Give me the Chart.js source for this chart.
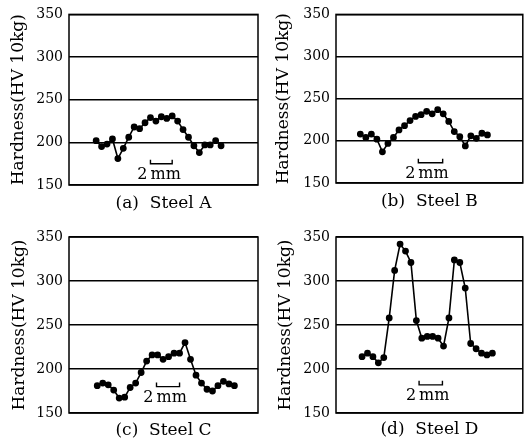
<!DOCTYPE html>
<html>
<head>
<meta charset="utf-8">
<script src="https://cdn.jsdelivr.net/npm/chart.js@4.4.0/dist/chart.umd.min.js"></script>
<style>
  body { margin: 0; background: #fff; }
  #wrap { position: relative; width: 527px; height: 443px; }
  canvas { position: absolute; }
</style>
</head>
<body>
<div id="wrap">
  <canvas id="cA" width="264" height="220" style="left:0;top:0"></canvas>
  <canvas id="cB" width="263" height="220" style="left:264px;top:0"></canvas>
  <canvas id="cC" width="264" height="223" style="left:0;top:220px"></canvas>
  <canvas id="cD" width="263" height="223" style="left:264px;top:220px"></canvas>
</div>
<script>
// hardness readings across the weld, one every 0.5 mm
const hardnessA = [202, 195, 198, 204, 181, 193, 206, 218, 216, 223, 229, 225, 230, 228, 231, 225, 215, 206, 196, 188, 197, 197, 202, 196];
const hardnessB = [208, 204, 208, 202, 187, 197, 204, 213, 218, 224, 229, 231, 235, 232, 237, 232, 223, 211, 205, 194, 206, 203, 209, 207];
const hardnessC = [181, 184, 182, 176, 167, 168, 179, 184, 196, 209, 216, 216, 211, 214, 218, 218, 230, 211, 193, 184, 177, 175, 181, 186, 183, 181];
const hardnessD = [214, 218, 214, 207, 213, 258, 312, 342, 334, 321, 255, 235, 237, 237, 235, 226, 258, 324, 321, 292, 229, 223, 218, 216, 218];

const panelTitles = ['(a)  Steel A', '(b)  Steel B', '(c)  Steel C', '(d)  Steel D'];
const yTicks = [150, 200, 250, 300, 350];
const yTitle = 'Hardness(HV 10kg)';
const scaleBarNum = '2';
const scaleBarUnit = 'mm';

const SERIF = "'DejaVu Serif', 'Liberation Serif', serif";

// frame around the plot + the 2 mm scale bar
const framePlugin = {
  id: 'frame',
  afterDatasetsDraw(chart, args, opts) {
    const {ctx, chartArea: a, scales: {x, y}} = chart;
    ctx.save();
    ctx.strokeStyle = '#000';
    ctx.lineWidth = 1.5;
    ctx.strokeRect(a.left, a.top, a.right - a.left, a.bottom - a.top);

    const x0 = x.getPixelForValue(opts.bar[0]);
    const x1 = x.getPixelForValue(opts.bar[1]);
    const yb = y.getPixelForValue(opts.bar[2]);
    ctx.lineWidth = 1.4;
    ctx.beginPath();
    ctx.moveTo(x0, yb - 4);
    ctx.lineTo(x0, yb);
    ctx.lineTo(x1, yb);
    ctx.lineTo(x1, yb - 4);
    ctx.stroke();
    ctx.fillStyle = '#000';
    ctx.font = '16px ' + SERIF;
    ctx.textBaseline = 'alphabetic';
    ctx.textAlign = 'right';
    ctx.fillText(scaleBarNum, x0 - 3, yb + 15);
    ctx.textAlign = 'left';
    ctx.fillText(scaleBarUnit, x0, yb + 15);
    ctx.restore();
  }
};

function makePanel(id, values, title, lay) {
  new Chart(document.getElementById(id), {
    type: 'line',
    data: {
      datasets: [{
        data: values.map((v, i) => ({x: i, y: v})),
        borderColor: '#000',
        backgroundColor: '#000',
        borderWidth: 1.6,
        pointRadius: 2.6,
        pointHoverRadius: 2.6,
        tension: 0
      }]
    },
    options: {
      responsive: false,
      animation: false,
      layout: {padding: {top: lay.top, right: lay.right, left: 0, bottom: 0}},
      plugins: {
        legend: {display: false},
        tooltip: {enabled: false},
        frame: {bar: lay.bar}
      },
      scales: {
        x: {
          type: 'linear',
          min: lay.xmin,
          max: lay.xmax,
          grid: {display: false, drawTicks: false},
          border: {display: false},
          ticks: {display: false},
          title: {
            display: true,
            text: title,
            color: '#000',
            font: {family: SERIF, size: 17},
            padding: {top: 0, bottom: lay.titlePad}
          },
          afterFit(s) { s.height = lay.bottomH; }
        },
        y: {
          min: 150,
          max: 350,
          afterBuildTicks(s) { s.ticks = yTicks.map(v => ({value: v})); },
          grid: {color: '#000', lineWidth: 1.5, drawTicks: false},
          border: {display: false},
          ticks: {
            color: '#000',
            padding: 6,
            font: {family: SERIF, size: 14}
          },
          title: {
            display: true,
            text: yTitle,
            color: '#000',
            font: {family: SERIF, size: 17},
            padding: {top: lay.yTitlePad, bottom: 0}
          },
          afterFit(s) { s.width = lay.leftW; }
        }
      }
    },
    plugins: [framePlugin]
  });
}

makePanel('cA', hardnessA, panelTitles[0], {
  top: 12, right: 6, leftW: 69, bottomH: 35, titlePad: 6, yTitlePad: 8,
  xmin: -5, xmax: 29.8, bar: [10, 14, 175]
});
makePanel('cB', hardnessB, panelTitles[1], {
  top: 11, right: 1, leftW: 72, bottomH: 37, titlePad: 8, yTitlePad: 9,
  xmin: -4.4, xmax: 29.4, bar: [10.5, 14.9, 174]
});
makePanel('cC', hardnessC, panelTitles[2], {
  top: 17, right: 6, leftW: 69, bottomH: 30, titlePad: 2, yTitlePad: 9,
  xmin: -5.15, xmax: 29.3, bar: [10.8, 15, 180]
});
makePanel('cD', hardnessD, panelTitles[3], {
  top: 17, right: 1, leftW: 72, bottomH: 30, titlePad: 3, yTitlePad: 11,
  xmin: -4.8, xmax: 29.6, bar: [10.5, 14.8, 182]
});
</script>
</body>
</html>
